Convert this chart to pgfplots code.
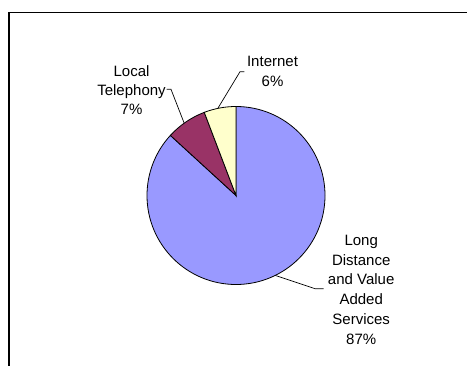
\documentclass[border=0pt]{standalone}
\usepackage{pgfplots}
\usepackage{pgfplotstable}
\pgfplotsset{compat=1.18}
\usepackage{fontspec}
\setmainfont{Liberation Sans}
\definecolor{ldcol}{HTML}{9999FF}
\definecolor{ltcol}{HTML}{993366}
\definecolor{incol}{HTML}{FFFFCC}

\pgfplotstableread{
label value
LongDistance 86.8
LocalTelephony 7.4
Internet 5.8
}\piedata

\begin{document}
\begin{tikzpicture}[x=1bp,y=1bp]
\useasboundingbox (0,0) rectangle (467,365);
\clip (0,0) rectangle (467,365);
\pgfplotstablegetelem{0}{value}\of\piedata \pgfmathsetmacro{\va}{\pgfplotsretval}
\pgfplotstablegetelem{1}{value}\of\piedata \pgfmathsetmacro{\vb}{\pgfplotsretval}
\pgfplotstablegetelem{2}{value}\of\piedata \pgfmathsetmacro{\vc}{\pgfplotsretval}
\pgfmathsetmacro{\aA}{90}
\pgfmathsetmacro{\aB}{90-3.6*\va}
\pgfmathsetmacro{\aC}{\aB-3.6*\vb}
\pgfmathsetmacro{\aD}{\aC-3.6*\vc}
\begin{axis}[
  at={(0,0)}, anchor=south west,
  x=1bp, y=1bp, scale only axis,
  xmin=0, xmax=467, ymin=0, ymax=365,
  hide axis, clip=false,
]
% frame
\draw[line width=1.1bp, black] (axis cs:9,-5) -- (axis cs:9,352.7) -- (axis cs:475,352.7);
% leader lines
\draw[line width=0.7bp] (axis cs:212,247) -- (axis cs:240,293.3) -- (axis cs:244.3,293.3);
\draw[line width=0.7bp] (axis cs:188,232) -- (axis cs:171,275.7) -- (axis cs:166.5,275.7);
\draw[line width=0.7bp] (axis cs:268,92) -- (axis cs:315,76.3) -- (axis cs:323.5,76.3);
% slices
\filldraw[fill=ldcol, draw=black, line width=0.8bp] (axis cs:236,169.5) -- ++(\aA:89) arc[start angle=\aA, end angle=\aB, radius=89bp] -- cycle;
\filldraw[fill=ltcol, draw=black, line width=0.8bp] (axis cs:236,169.5) -- ++(\aB:89) arc[start angle=\aB, end angle=\aC, radius=89bp] -- cycle;
\filldraw[fill=incol, draw=black, line width=0.8bp] (axis cs:236,169.5) -- ++(\aC:89) arc[start angle=\aC, end angle=\aD, radius=89bp] -- cycle;
% labels
\begin{scope}[every node/.style={anchor=base, inner sep=0pt, font=\fontsize{15bp}{18bp}\selectfont}]
\node at (axis cs:272.5,299) {Internet};
\node at (axis cs:272.5,279) {6\%};
\node at (axis cs:131.5,289) {Local};
\node at (axis cs:131.5,270) {Telephony};
\node at (axis cs:131.5,250.7) {7\%};
\node at (axis cs:361.2,120) {Long};
\node at (axis cs:361.2,100) {Distance};
\node at (axis cs:361.2,80.7) {and Value};
\node at (axis cs:361.2,60.7) {Added};
\node at (axis cs:361.2,40.7) {Services};
\node at (axis cs:361.2,21) {87\%};
\end{scope}
\end{axis}
\end{tikzpicture}
\end{document}
